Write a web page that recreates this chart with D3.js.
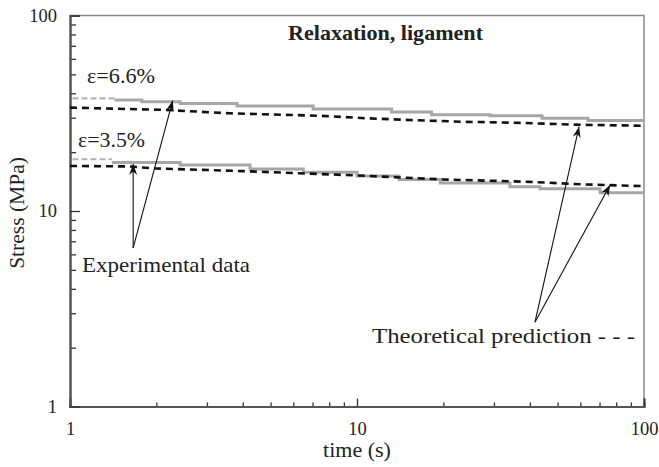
<!DOCTYPE html>
<html lang="en">
<head>
<meta charset="utf-8">
<title>Relaxation, ligament</title>
<script src="https://cdn.jsdelivr.net/npm/d3@7"></script>
<style>
body { margin:0; background:#ffffff; }
svg { font-family:"Liberation Serif", "Times New Roman", serif; }
</style>
</head>
<body>
<div id="chart"></div>
<script>
// data (time in s, stress in MPa)
const expHighT = [1.02, 1.43, 1.78, 2.42, 3.82, 7.03, 13.2, 18.2, 29.1, 44.1, 63.8, 100];
const expHighV = [37.7, 37.0, 36.2, 35.5, 34.4, 33.2, 32.1, 31.1, 30.7, 29.8, 29.0, 29.0];
const expLowT = [1.02, 1.40, 2.42, 4.24, 6.5, 10, 14, 19.5, 34.1, 43.4, 70.3, 100];
const expLowV = [18.4, 17.7, 17.2, 16.4, 15.8, 15.1, 14.5, 13.9, 13.3, 13.0, 12.4, 12.4];
const leadEnd = 1; // first step of each measured curve is drawn light and dashed
const theoHighT = [1, 2.14, 3.61, 7.43, 10.8, 15.3, 23.4, 35, 60, 100];
const theoHighV = [33.8, 32.9, 31.6, 30.7, 29.8, 29.2, 28.6, 28.3, 27.6, 27.3];
const theoLowT = [1, 1.6, 2, 4, 10, 20, 40, 60, 100];
const theoLowV = [17.0, 16.9, 16.5, 16.0, 15.2, 14.5, 14.1, 13.7, 13.4];
// arrows: apex then tips
const expArrowApex = [1.66, 6.47];
const expArrowTips = [[1.66, 17.4], [2.28, 36.7]];
const theoArrowApex = [41.7, 2.7];
const theoArrowTips = [[59.4, 27.0], [76.2, 13.6]];
const xMajor = [1, 10, 100];
const yMajor = [1, 10, 100];

const W = 659, H = 467;
const margin = {top: 15.5, right: 15, bottom: 60.5, left: 70};
const svg = d3.select("#chart").append("svg").attr("width", W).attr("height", H);
const x = d3.scaleLog().domain([1, 100]).range([margin.left, W - margin.right]);
const y = d3.scaleLog().domain([1, 100]).range([H - margin.bottom, margin.top]);

const minorOf = ext => d3.range(Math.log10(ext[0]), Math.log10(ext[1]))
  .flatMap(e => d3.range(2, 10).map(k => k * Math.pow(10, e)));
const xMinor = minorOf([1, 100]);
const yMinor = minorOf([1, 100]);

svg.append("defs").append("marker")
  .attr("id", "head").attr("markerUnits", "userSpaceOnUse")
  .attr("viewBox", "-12 -5 13 10").attr("refX", 0).attr("refY", 0)
  .attr("markerWidth", 13).attr("markerHeight", 10).attr("orient", "auto")
  .append("path").attr("d", "M0,0 L-11,-4 L-7.5,0 L-11,4 Z").attr("fill", "#111");

// frame: top/right lighter
svg.append("path")
  .attr("d", `M${x(1)},${y(100)} H${x(100)} V${y(1)}`)
  .attr("fill", "none").attr("stroke", "#8a8a8a").attr("stroke-width", 1.5);

// axes
function styleAxis(g) {
  g.select(".domain").attr("stroke", "#555").attr("stroke-width", 2);
  g.selectAll(".tick line").attr("stroke", "#333").attr("stroke-width", 1.3);
  g.selectAll("text").attr("font-size", 18.5).attr("fill", "#222")
    .attr("font-family", "Liberation Serif, serif");
}
svg.append("g").attr("transform", `translate(0,${y(1)})`)
  .call(d3.axisBottom(x).tickValues(xMinor).tickSize(-4).tickFormat(""))
  .call(styleAxis);
svg.append("g").attr("transform", `translate(0,${y(1)})`)
  .call(d3.axisBottom(x).tickValues(xMajor).tickSize(-8).tickPadding(15).tickFormat(d3.format("d")))
  .call(styleAxis);
svg.append("g").attr("transform", `translate(${x(1)},0)`)
  .call(d3.axisLeft(y).tickValues(yMinor).tickSize(-6).tickFormat(""))
  .call(styleAxis);
svg.append("g").attr("transform", `translate(${x(1)},0)`)
  .call(d3.axisLeft(y).tickValues(yMajor).tickSize(-10).tickPadding(13).tickFormat(d3.format("d")))
  .call(styleAxis);

svg.append("text").attr("x", x(10)).attr("y", 457).attr("text-anchor", "middle")
  .attr("font-size", 22).attr("fill", "#222").text("time (s)");
svg.append("text").attr("transform", `translate(24,${y(10) + 2}) rotate(-90)`)
  .attr("text-anchor", "middle").attr("font-size", 21.5).attr("fill", "#222").text("Stress (MPa)");

// curves
const line = d3.line().x(d => x(d[0])).y(d => y(d[1]));
const stepLine = d3.line().x(d => x(d[0])).y(d => y(d[1])).curve(d3.curveStepAfter);
const zip = (a, b) => a.map((v, i) => [v, b[i]]);

[[expHighT, expHighV], [expLowT, expLowV]].forEach(([t, v]) => {
  const pts = zip(t, v);
  svg.append("path").datum(pts.slice(0, leadEnd + 1).map(p => [p[0], pts[0][1]]))
    .attr("d", line).attr("fill", "none").attr("stroke", "#b4b4b4")
    .attr("stroke-width", 2.2).attr("stroke-dasharray", "6,3");
  svg.append("path").datum(pts.slice(leadEnd))
    .attr("d", stepLine).attr("fill", "none").attr("stroke", "#a6a6a6").attr("stroke-width", 3);
});
[[theoHighT, theoHighV], [theoLowT, theoLowV]].forEach(([t, v]) => {
  svg.append("path").datum(zip(t, v))
    .attr("d", line).attr("fill", "none").attr("stroke", "#111")
    .attr("stroke-width", 2.6).attr("stroke-dasharray", "7,5");
});

// arrows
[[expArrowApex, expArrowTips], [theoArrowApex, theoArrowTips]].forEach(([a, tips]) => {
  tips.forEach(tp => {
    svg.append("line")
      .attr("x1", x(a[0])).attr("y1", y(a[1])).attr("x2", x(tp[0])).attr("y2", y(tp[1]))
      .attr("stroke", "#111").attr("stroke-width", 1.1).attr("marker-end", "url(#head)");
  });
});

// annotations
const ann = svg.append("g").attr("font-size", 21).attr("fill", "#222");
const label = (g, px, py, len, s) => g.append("text").attr("x", px).attr("y", py)
  .attr("textLength", len).attr("lengthAdjust", "spacingAndGlyphs").text(s);
label(ann, 87, 83, 68, "ε=6.6%");
label(ann, 78, 147, 67, "ε=3.5%");
label(ann, 82, 272, 168, "Experimental data");
label(ann, 372, 343, 263, "Theoretical prediction - - -");
label(svg, 288, 40, 195, "Relaxation, ligament")
  .attr("font-size", 21).attr("font-weight", "bold").attr("fill", "#222");
</script>
</body>
</html>
